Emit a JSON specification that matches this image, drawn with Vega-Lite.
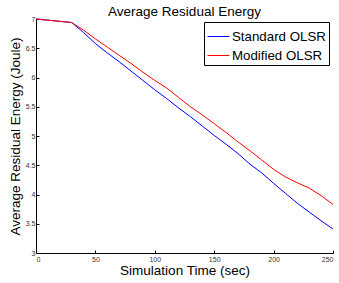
{
  "$schema": "https://vega.github.io/schema/vega-lite/v6.json",
  "width": 297,
  "height": 234,
  "autosize": {"type": "none"},
  "padding": {"left": 36, "top": 19, "right": 6, "bottom": 30},
  "background": "white",
  "title": {"text": "Average Residual Energy", "fontSize": 13.5, "font": "Liberation Sans", "fontWeight": "normal", "color": "#000", "offset": -3},
  "config": {"view": {"stroke": null}, "font": "Liberation Sans"},
  "data": {"values": [
    {"t": 0, "e": 7.00, "s": "Standard OLSR"},
    {"t": 10, "e": 6.98, "s": "Standard OLSR"},
    {"t": 20, "e": 6.96, "s": "Standard OLSR"},
    {"t": 30, "e": 6.94, "s": "Standard OLSR"},
    {"t": 40, "e": 6.77, "s": "Standard OLSR"},
    {"t": 50, "e": 6.58, "s": "Standard OLSR"},
    {"t": 60, "e": 6.42, "s": "Standard OLSR"},
    {"t": 70, "e": 6.27, "s": "Standard OLSR"},
    {"t": 80, "e": 6.11, "s": "Standard OLSR"},
    {"t": 90, "e": 5.95, "s": "Standard OLSR"},
    {"t": 100, "e": 5.79, "s": "Standard OLSR"},
    {"t": 110, "e": 5.64, "s": "Standard OLSR"},
    {"t": 120, "e": 5.48, "s": "Standard OLSR"},
    {"t": 130, "e": 5.33, "s": "Standard OLSR"},
    {"t": 140, "e": 5.17, "s": "Standard OLSR"},
    {"t": 150, "e": 5.01, "s": "Standard OLSR"},
    {"t": 160, "e": 4.86, "s": "Standard OLSR"},
    {"t": 170, "e": 4.70, "s": "Standard OLSR"},
    {"t": 180, "e": 4.52, "s": "Standard OLSR"},
    {"t": 190, "e": 4.37, "s": "Standard OLSR"},
    {"t": 200, "e": 4.19, "s": "Standard OLSR"},
    {"t": 210, "e": 4.02, "s": "Standard OLSR"},
    {"t": 220, "e": 3.85, "s": "Standard OLSR"},
    {"t": 230, "e": 3.70, "s": "Standard OLSR"},
    {"t": 240, "e": 3.55, "s": "Standard OLSR"},
    {"t": 250, "e": 3.41, "s": "Standard OLSR"},
    {"t": 0, "e": 7.00, "s": "Modified OLSR"},
    {"t": 10, "e": 6.98, "s": "Modified OLSR"},
    {"t": 20, "e": 6.96, "s": "Modified OLSR"},
    {"t": 30, "e": 6.94, "s": "Modified OLSR"},
    {"t": 40, "e": 6.81, "s": "Modified OLSR"},
    {"t": 50, "e": 6.66, "s": "Modified OLSR"},
    {"t": 60, "e": 6.52, "s": "Modified OLSR"},
    {"t": 70, "e": 6.38, "s": "Modified OLSR"},
    {"t": 80, "e": 6.24, "s": "Modified OLSR"},
    {"t": 90, "e": 6.09, "s": "Modified OLSR"},
    {"t": 100, "e": 5.95, "s": "Modified OLSR"},
    {"t": 110, "e": 5.82, "s": "Modified OLSR"},
    {"t": 120, "e": 5.66, "s": "Modified OLSR"},
    {"t": 130, "e": 5.50, "s": "Modified OLSR"},
    {"t": 140, "e": 5.36, "s": "Modified OLSR"},
    {"t": 150, "e": 5.21, "s": "Modified OLSR"},
    {"t": 160, "e": 5.06, "s": "Modified OLSR"},
    {"t": 170, "e": 4.90, "s": "Modified OLSR"},
    {"t": 180, "e": 4.75, "s": "Modified OLSR"},
    {"t": 190, "e": 4.59, "s": "Modified OLSR"},
    {"t": 200, "e": 4.43, "s": "Modified OLSR"},
    {"t": 210, "e": 4.30, "s": "Modified OLSR"},
    {"t": 220, "e": 4.20, "s": "Modified OLSR"},
    {"t": 230, "e": 4.11, "s": "Modified OLSR"},
    {"t": 240, "e": 3.98, "s": "Modified OLSR"},
    {"t": 250, "e": 3.83, "s": "Modified OLSR"}
  ]},
  "mark": {"type": "line", "strokeWidth": 1},
  "encoding": {
    "x": {"field": "t", "type": "quantitative",
      "scale": {"domain": [0, 250], "nice": false},
      "axis": {"title": "Simulation Time (sec)", "values": [0, 50, 100, 150, 200, 250], "grid": false,
        "labelExpr": "datum.value",
        "domainColor": "#000", "tickColor": "#000", "tickSize": -3, "labelPadding": 5,
        "labelFontSize": 7, "labelColor": "#333", "titleFontSize": 13.5, "titleFontWeight": "normal", "titleColor": "#000", "titlePadding": 1}},
    "y": {"field": "e", "type": "quantitative",
      "scale": {"domain": [3, 7], "nice": false, "zero": false},
      "axis": {"title": "Average Residual Energy (Joule)", "values": [3, 3.5, 4, 4.5, 5, 5.5, 6, 6.5, 7], "grid": false,
        "labelExpr": "datum.value",
        "domainColor": "#000", "tickColor": "#000", "tickSize": -3, "labelPadding": 4,
        "labelFontSize": 7, "labelColor": "#333", "titleFontSize": 13.5, "titleFontWeight": "normal", "titleColor": "#000", "titlePadding": 3}},
    "color": {"field": "s", "type": "nominal",
      "scale": {"domain": ["Standard OLSR", "Modified OLSR"], "range": ["#0000ff", "#ff0000"]},
      "legend": {"title": null, "orient": "none", "legendX": 168, "legendY": 3,
        "symbolType": "stroke", "symbolSize": 480, "symbolStrokeWidth": 1,
        "labelFontSize": 13.3, "labelColor": "#000", "rowPadding": 1, "labelOffset": 2,
        "strokeColor": "#000", "fillColor": "white", "padding": 3}}
  }
}
